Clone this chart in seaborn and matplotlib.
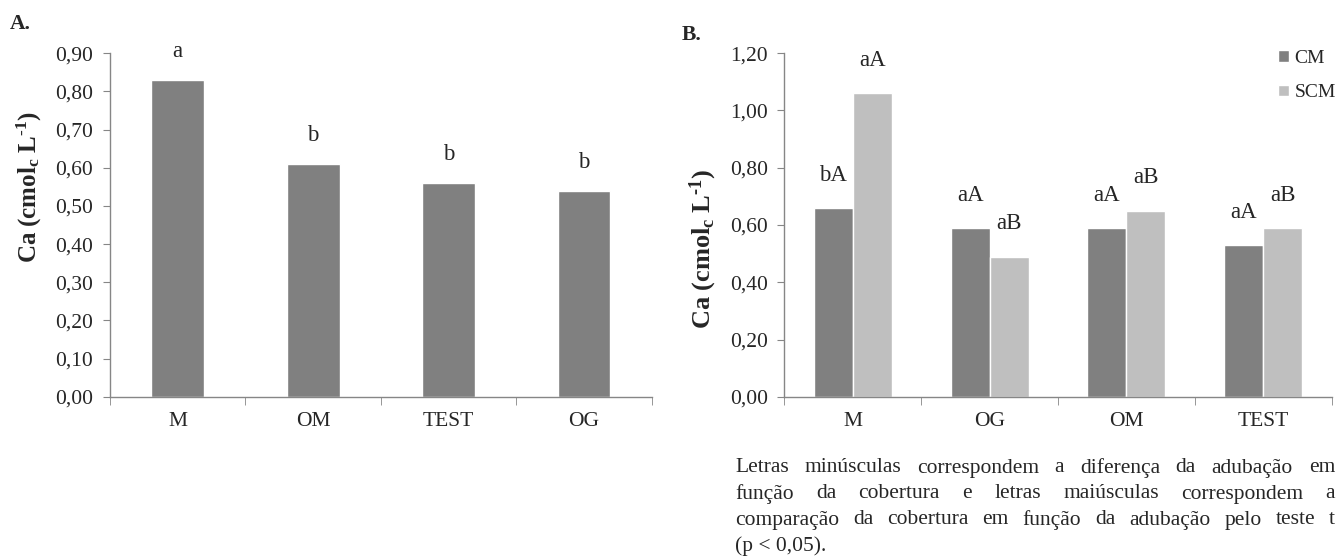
import matplotlib
matplotlib.use("Agg")
import matplotlib.pyplot as plt
import seaborn as sns
import pandas as pd
from matplotlib.ticker import FuncFormatter, FixedLocator

# ---------------- data ----------------
cats_a = ["M", "OM", "TEST", "OG"]
vals_a = [0.83, 0.61, 0.56, 0.54]
letters_a = ["a", "b", "b", "b"]

cats_b = ["M", "OG", "OM", "TEST"]
cm_b = [0.66, 0.59, 0.59, 0.53]
scm_b = [1.06, 0.49, 0.65, 0.59]
letters_cm = ["bA", "aA", "aA", "aA"]
letters_scm = ["aA", "aB", "aB", "aB"]
series_names = ["CM", "SCM"]

yticks_a = [0.0, 0.1, 0.2, 0.3, 0.4, 0.5, 0.6, 0.7, 0.8, 0.9]
yticks_b = [0.0, 0.2, 0.4, 0.6, 0.8, 1.0, 1.2]

note_lines = [
    "Letras minúsculas correspondem a diferença da adubação em",
    "função da cobertura e letras maiúsculas correspondem a",
    "comparação da cobertura em função da  adubação pelo teste t",
    "(p < 0,05).",
]

# ---------------- style ----------------
sns.set_style("white")
plt.rcParams["font.family"] = ["Liberation Serif", "DejaVu Serif"]
plt.rcParams["mathtext.fontset"] = "custom"
plt.rcParams["mathtext.rm"] = "Liberation Serif"
plt.rcParams["mathtext.bf"] = "Liberation Serif:bold"
plt.rcParams["mathtext.it"] = "Liberation Serif:italic"

DARK = "#808080"
LIGHT = "#bfbfbf"
AXC = "#868686"
FS = 15.5
LFS = 16.5

fig = plt.figure(figsize=(13.41, 5.59), dpi=100)
axA = fig.add_axes([0.082, 0.29, 0.404, 0.615])
axB = fig.add_axes([0.585, 0.29, 0.408, 0.615])

comma = FuncFormatter(lambda v, p: f"{v:.2f}".replace(".", ","))
YLABEL = "$\\mathbf{Ca\\ (cmol_c\\ L^{\u20101})}$"


def style_axes(ax, ymax, yticks, ylab_fs, ylab_x, ylab_y):
    for s in ["top", "right"]:
        ax.spines[s].set_visible(False)
    for s in ["left", "bottom"]:
        ax.spines[s].set_color(AXC)
        ax.spines[s].set_linewidth(1.0)
    ax.set_ylim(0, ymax)
    ax.set_xlim(-0.5, 3.5)
    ax.yaxis.set_major_locator(FixedLocator(yticks))
    ax.yaxis.set_major_formatter(comma)
    ax.tick_params(axis="y", which="major", direction="out", length=5,
                   color=AXC, labelsize=FS, pad=7, left=True)
    ax.tick_params(axis="x", which="major", length=0, labelsize=FS, pad=11)
    ax.xaxis.set_minor_locator(FixedLocator([-0.5, 0.5, 1.5, 2.5, 3.5]))
    ax.tick_params(axis="x", which="minor", direction="out", length=6,
                   color=AXC, bottom=True)
    ax.set_xlabel("")
    ax.set_ylabel(YLABEL, fontsize=ylab_fs)
    ax.yaxis.set_label_coords(ylab_x, ylab_y)
    ax.grid(False)


# ---------------- panel A ----------------
dfa = pd.DataFrame({"cat": cats_a, "val": vals_a})
sns.barplot(data=dfa, x="cat", y="val", color=DARK, width=0.39,
            saturation=1, ax=axA, errorbar=None)
style_axes(axA, 0.9, yticks_a, 18, -0.122, 0.61)
axA.bar_label(axA.containers[0], labels=letters_a, padding=13, fontsize=LFS)

# ---------------- panel B ----------------
dfb = pd.DataFrame({
    "cat": cats_b * 2,
    "val": cm_b + scm_b,
    "serie": [series_names[0]] * len(cats_b) + [series_names[1]] * len(cats_b),
})
sns.barplot(data=dfb, x="cat", y="val", hue="serie", order=cats_b,
            hue_order=series_names, palette=[DARK, LIGHT], width=0.57,
            saturation=1, ax=axB, errorbar=None)
style_axes(axB, 1.2, yticks_b, 19, -0.12, 0.43)
axB.bar_label(axB.containers[0], labels=letters_cm, padding=16, fontsize=LFS)
axB.bar_label(axB.containers[1], labels=letters_scm, padding=16, fontsize=LFS)
leg = axB.legend(loc="upper right", bbox_to_anchor=(1.04, 1.06), frameon=False,
                 fontsize=14, handlelength=0.55, handleheight=0.55,
                 handletextpad=0.3, labelspacing=0.9, title=None)

# panel labels
fig.text(0.0075, 0.975, "A.", fontsize=FS, fontweight="bold", va="top")
fig.text(0.508, 0.955, "B.", fontsize=FS, fontweight="bold", va="top")

# ---------------- footnote (justified) ----------------
fig.canvas.draw()
renderer = fig.canvas.get_renderer()
x0_px, x1_px = 735, 1335
W, H = fig.bbox.width, fig.bbox.height
y_px = [468, 494, 520, 546]
NFS = 15.5
for i, line in enumerate(note_lines):
    yy = 1 - y_px[i] / H
    if i == len(note_lines) - 1:
        fig.text(x0_px / W, yy, line, fontsize=NFS, va="center", ha="left")
        continue
    words = line.split()
    widths = []
    for w in words:
        t = fig.text(0, 0, w, fontsize=NFS)
        widths.append(t.get_window_extent(renderer).width)
        t.remove()
    gap = (x1_px - x0_px - sum(widths)) / (len(words) - 1)
    x = x0_px
    for w, wd in zip(words, widths):
        fig.text(x / W, yy, w, fontsize=NFS, va="center", ha="left")
        x += wd + gap

fig.savefig("out.png", dpi=100)
